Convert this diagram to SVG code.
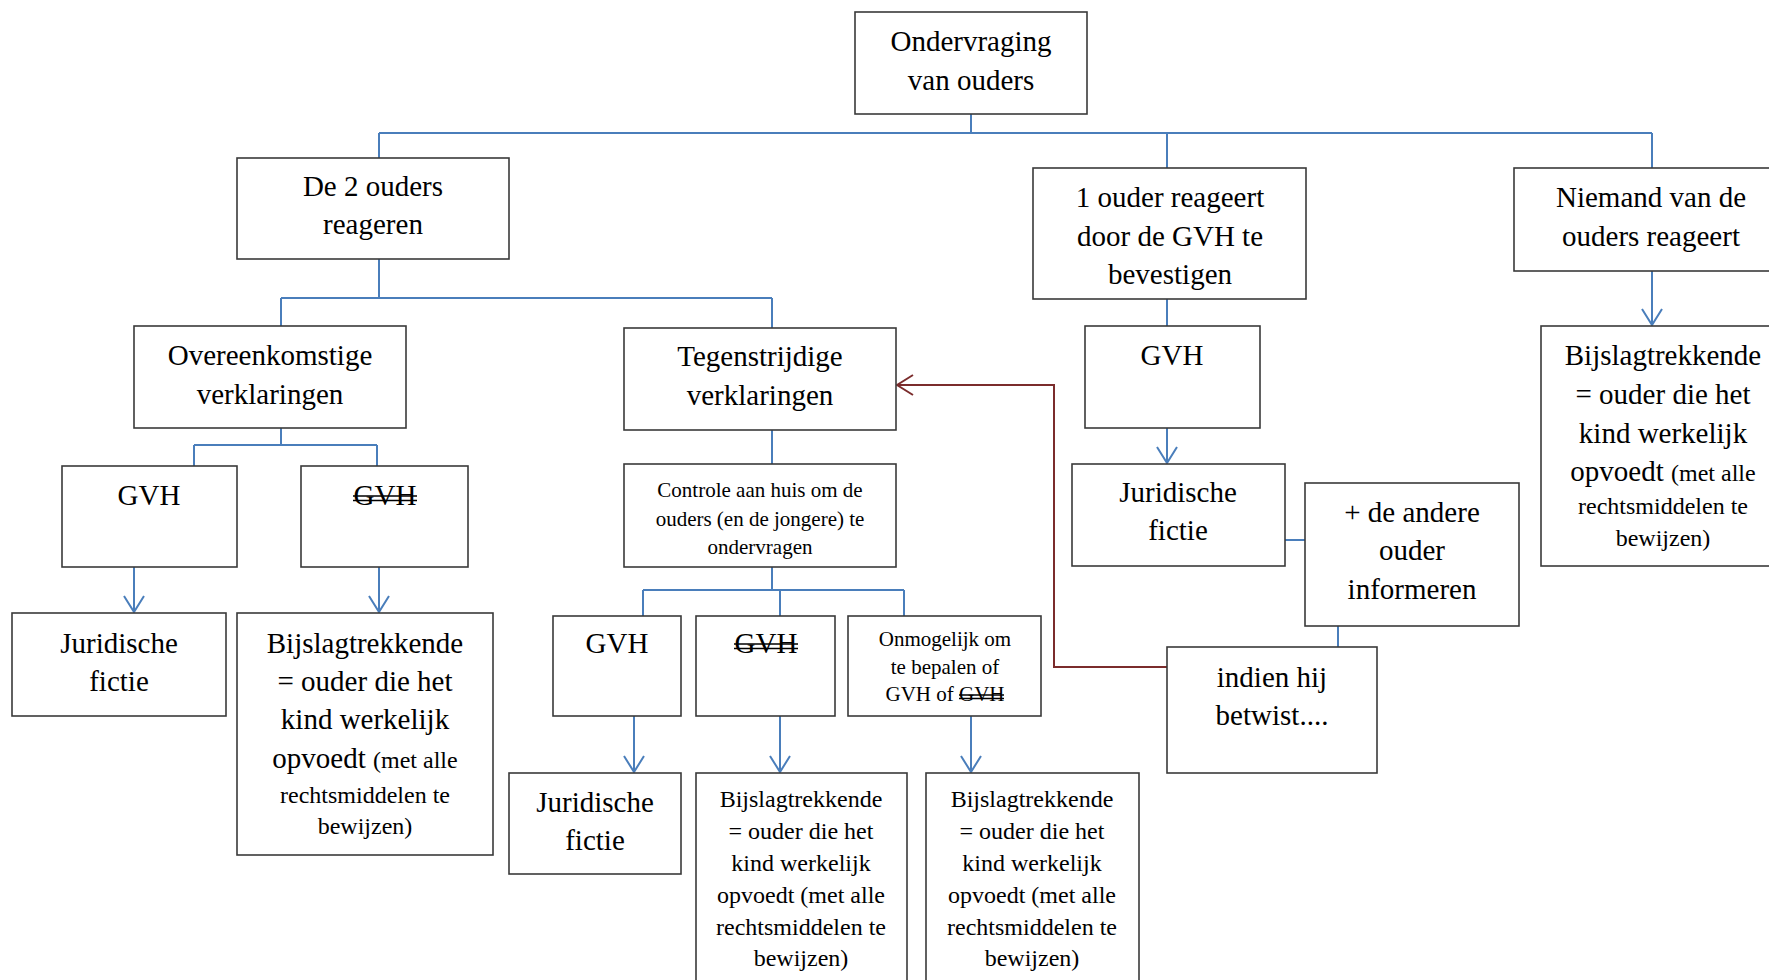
<svg xmlns="http://www.w3.org/2000/svg" width="1769" height="980" viewBox="0 0 1769 980">
<style>
.box{fill:#fff;stroke:#3a3a3a;stroke-width:1.6}
.t{font-family:"Liberation Serif","Times New Roman",serif;fill:#000;text-anchor:middle}
.l{font-size:29px}
.m{font-size:24px}
.s{font-size:21px}
.blue{fill:none;stroke:#4a7ebb;stroke-width:2}
.red{fill:none;stroke:#7b2c2c;stroke-width:2}
.strike{stroke:#000;stroke-width:1.4}
</style>
<defs>
<marker id="ab" viewBox="0 0 18 22" refX="17" refY="11" markerWidth="18" markerHeight="22" markerUnits="userSpaceOnUse" orient="auto">
<path d="M1,1 L17,11 L1,21" fill="none" stroke="#4a7ebb" stroke-width="2"/>
</marker>
<marker id="ar" viewBox="0 0 18 22" refX="17" refY="11" markerWidth="18" markerHeight="22" markerUnits="userSpaceOnUse" orient="auto">
<path d="M1,1 L17,11 L1,21" fill="none" stroke="#7b2c2c" stroke-width="2"/>
</marker>
</defs>
<rect width="1769" height="980" fill="#fff"/>
<g id="connectors">
<path class="blue" d="M971,114 V133 M379,133 H1652 M379,133 V158 M1167,133 V168 M1652,133 V168"/>
<path class="blue" d="M379,259 V298 M281,298 H772 M281,298 V326 M772,298 V328"/>
<path class="blue" d="M281,428 V445 M194,445 H377 M194,445 V466 M377,445 V466"/>
<path class="blue" d="M134,567 V612" marker-end="url(#ab)"/>
<path class="blue" d="M379,567 V612" marker-end="url(#ab)"/>
<path class="blue" d="M772,430 V464 M772,567 V590 M643,590 H904 M643,590 V616 M780,590 V616 M904,590 V616"/>
<path class="blue" d="M634,716 V772" marker-end="url(#ab)"/>
<path class="blue" d="M780,716 V772" marker-end="url(#ab)"/>
<path class="blue" d="M971,716 V772" marker-end="url(#ab)"/>
<path class="blue" d="M1167,299 V326"/>
<path class="blue" d="M1167,428 V463" marker-end="url(#ab)"/>
<path class="blue" d="M1652,271 V325" marker-end="url(#ab)"/>
<path class="blue" d="M1285,540 H1305 M1338,626 V647"/>
<path class="red" d="M1167,667 H1054 V385 H897" marker-end="url(#ar)"/>
</g>
<g id="n-ondervraging">
<rect class="box" x="855" y="12" width="232" height="102"/>
<text class="t l" x="971" y="51">Ondervraging</text>
<text class="t l" x="971" y="90">van ouders</text>
</g>
<g id="n-de2ouders">
<rect class="box" x="237" y="158" width="272" height="101"/>
<text class="t l" x="373" y="196">De 2 ouders</text>
<text class="t l" x="373" y="234">reageren</text>
</g>
<g id="n-1ouder">
<rect class="box" x="1033" y="168" width="273" height="131"/>
<text class="t l" x="1170" y="207">1 ouder reageert</text>
<text class="t l" x="1170" y="246">door de GVH te</text>
<text class="t l" x="1170" y="284">bevestigen</text>
</g>
<g id="n-niemand">
<rect class="box" x="1514" y="168" width="270" height="103"/>
<text class="t l" x="1651" y="207">Niemand van de</text>
<text class="t l" x="1651" y="246">ouders reageert</text>
</g>
<g id="n-overeenkomstige">
<rect class="box" x="134" y="326" width="272" height="102"/>
<text class="t l" x="270" y="365">Overeenkomstige</text>
<text class="t l" x="270" y="404">verklaringen</text>
</g>
<g id="n-tegenstrijdige">
<rect class="box" x="624" y="328" width="272" height="102"/>
<text class="t l" x="760" y="366">Tegenstrijdige</text>
<text class="t l" x="760" y="405">verklaringen</text>
</g>
<g id="n-gvh4">
<rect class="box" x="1085" y="326" width="175" height="102"/>
<text class="t l" x="1172" y="365">GVH</text>
</g>
<g id="n-bijslag4">
<rect class="box" x="1541" y="326" width="240" height="240"/>
<text class="t l" x="1663" y="365">Bijslagtrekkende</text>
<text class="t l" x="1663" y="404">= ouder die het</text>
<text class="t l" x="1663" y="443">kind werkelijk</text>
<text class="t l" x="1663" y="481">opvoedt <tspan class="m">(met alle</tspan></text>
<text class="t m" x="1663" y="514">rechtsmiddelen te</text>
<text class="t m" x="1663" y="546">bewijzen)</text>
</g>
<g id="n-gvh1">
<rect class="box" x="62" y="466" width="175" height="101"/>
<text class="t l" x="149" y="505">GVH</text>
</g>
<g id="n-nietgvh1">
<rect class="box" x="301" y="466" width="167" height="101"/>
<text class="t l" x="385" y="505">GVH</text>
<line class="strike" x1="353" y1="496" x2="417" y2="496"/>
<line class="strike" x1="353" y1="500.5" x2="417" y2="500.5"/>
</g>
<g id="n-controle">
<rect class="box" x="624" y="464" width="272" height="103"/>
<text class="t s" x="760" y="497">Controle aan huis om de</text>
<text class="t s" x="760" y="526">ouders (en de jongere) te</text>
<text class="t s" x="760" y="554">ondervragen</text>
</g>
<g id="n-juridisch3">
<rect class="box" x="1072" y="464" width="213" height="102"/>
<text class="t l" x="1178" y="502">Juridische</text>
<text class="t l" x="1178" y="540">fictie</text>
</g>
<g id="n-informeren">
<rect class="box" x="1305" y="483" width="214" height="143"/>
<text class="t l" x="1412" y="522">+ de andere</text>
<text class="t l" x="1412" y="560">ouder</text>
<text class="t l" x="1412" y="599">informeren</text>
</g>
<g id="n-juridisch1">
<rect class="box" x="12" y="613" width="214" height="103"/>
<text class="t l" x="119" y="653">Juridische</text>
<text class="t l" x="119" y="691">fictie</text>
</g>
<g id="n-bijslag1">
<rect class="box" x="237" y="613" width="256" height="242"/>
<text class="t l" x="365" y="653">Bijslagtrekkende</text>
<text class="t l" x="365" y="691">= ouder die het</text>
<text class="t l" x="365" y="729">kind werkelijk</text>
<text class="t l" x="365" y="768">opvoedt <tspan class="m">(met alle</tspan></text>
<text class="t m" x="365" y="803">rechtsmiddelen te</text>
<text class="t m" x="365" y="834">bewijzen)</text>
</g>
<g id="n-gvh3">
<rect class="box" x="553" y="616" width="128" height="100"/>
<text class="t l" x="617" y="653">GVH</text>
</g>
<g id="n-nietgvh3">
<rect class="box" x="696" y="616" width="139" height="100"/>
<text class="t l" x="766" y="653">GVH</text>
<line class="strike" x1="734" y1="644" x2="798" y2="644"/>
<line class="strike" x1="734" y1="648.5" x2="798" y2="648.5"/>
</g>
<g id="n-onmogelijk">
<rect class="box" x="848" y="616" width="193" height="100"/>
<text class="t s" x="945" y="646">Onmogelijk om</text>
<text class="t s" x="945" y="674">te bepalen of</text>
<text class="t s" x="945" y="701">GVH of GVH</text>
<line class="strike" x1="959" y1="695" x2="1004" y2="695"/>
<line class="strike" x1="959" y1="698.5" x2="1004" y2="698.5"/>
</g>
<g id="n-indien">
<rect class="box" x="1167" y="647" width="210" height="126"/>
<text class="t l" x="1272" y="687">indien hij</text>
<text class="t l" x="1272" y="725">betwist....</text>
</g>
<g id="n-juridisch2">
<rect class="box" x="509" y="773" width="172" height="101"/>
<text class="t l" x="595" y="812">Juridische</text>
<text class="t l" x="595" y="850">fictie</text>
</g>
<g id="n-bijslag2">
<rect class="box" x="696" y="773" width="211" height="230"/>
<text class="t m" x="801" y="807">Bijslagtrekkende</text>
<text class="t m" x="801" y="839">= ouder die het</text>
<text class="t m" x="801" y="871">kind werkelijk</text>
<text class="t m" x="801" y="903">opvoedt (met alle</text>
<text class="t m" x="801" y="935">rechtsmiddelen te</text>
<text class="t m" x="801" y="966">bewijzen)</text>
</g>
<g id="n-bijslag3">
<rect class="box" x="926" y="773" width="213" height="230"/>
<text class="t m" x="1032" y="807">Bijslagtrekkende</text>
<text class="t m" x="1032" y="839">= ouder die het</text>
<text class="t m" x="1032" y="871">kind werkelijk</text>
<text class="t m" x="1032" y="903">opvoedt (met alle</text>
<text class="t m" x="1032" y="935">rechtsmiddelen te</text>
<text class="t m" x="1032" y="966">bewijzen)</text>
</g>
</svg>
